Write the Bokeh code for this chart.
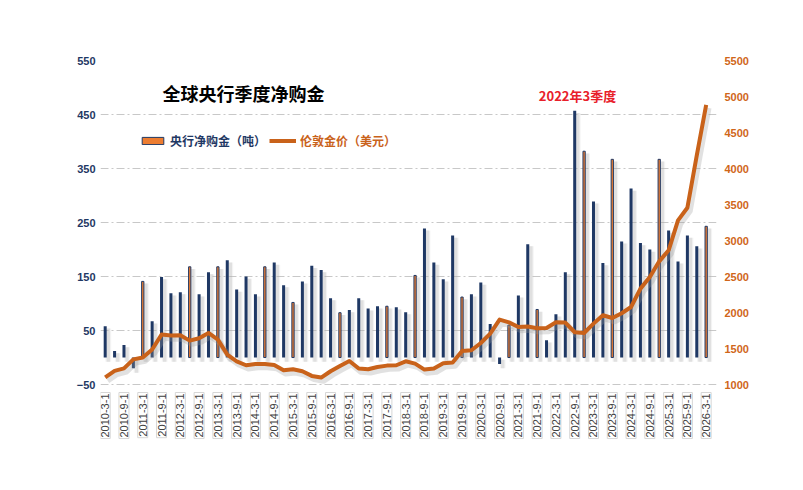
import numpy as np
from bokeh.plotting import figure
from bokeh.models import (Range1d, LinearAxis, FixedTicker, Legend, LegendItem,
                          Label, ColumnDataSource)
from bokeh.embed import file_html
from bokeh.resources import INLINE

# ---------------- data ----------------
quarters = [f"{y}-{m}-1" for y in range(2010, 2027) for m in (3, 6, 9, 12)][:65]

purchases = [58, 12, 23, -20, 141, 67, 149, 119, 121, 168,
             117, 158, 168, 180, 126, 150, 117, 168, 176, 134,
             102, 141, 170, 162, 110, 83, 88, 110, 91, 95,
             95, 93, 84, 152, 239, 176, 145, 226, 112, 117,
             139, 62, -12, 60, 115, 210, 89, 32, 80, 158,
             457, 382, 289, 175, 367, 215, 313, 212, 200, 367,
             235, 178, 226, 206, 243]

gold_price = [1100, 1190, 1225, 1350, 1375, 1486, 1694, 1680, 1684, 1610,
              1642, 1716, 1624, 1416, 1323, 1268, 1286, 1286, 1272, 1198,
              1212, 1185, 1120, 1097, 1185, 1258, 1328, 1222, 1212, 1244,
              1263, 1268, 1323, 1291, 1208, 1222, 1296, 1305, 1466, 1476,
              1577, 1708, 1902, 1864, 1800, 1805, 1781, 1786, 1864, 1860,
              1726, 1716, 1846, 1962, 1924, 1990, 2077, 2332, 2493, 2711,
              2864, 3280, 3456, 4182, 4885]

left_ticks = [-50, 50, 150, 250, 350, 450, 550]
right_ticks = [1000, 1500, 2000, 2500, 3000, 3500, 4000, 4500, 5000, 5500]

# bars whose orange fill shows through the outline in the reference
orange_visible = [4, 9, 12, 17, 20, 25, 30, 33, 38, 43, 46, 51, 54, 59, 64]

NAVY = "#1F3864"
ORANGE = "#ED7D31"
LINE = "#C9621A"
CJK = "Noto Sans CJK SC"

x = list(range(len(purchases)))

# The frame reaches below the lowest gridline so that the boxed category
# labels can be drawn inside it (60px extra space below the -50 / 1000 line).
EXTRA_PX = 61
PX_LEFT = 324.3 / (left_ticks[-1] - left_ticks[0])
PX_RIGHT = 324.3 / (right_ticks[-1] - right_ticks[0])
y_lo = left_ticks[0] - EXTRA_PX / PX_LEFT
r_lo = right_ticks[0] - EXTRA_PX / PX_RIGHT

p = figure(width=803, height=490, x_range=Range1d(-0.5, 65.1),
           y_range=Range1d(y_lo, left_ticks[-1]), output_backend="svg",
           toolbar_location=None, min_border_left=100, min_border_right=87,
           min_border_top=60, min_border_bottom=45)
p.outline_line_color = None
p.background_fill_color = "white"
p.extra_y_ranges = {"price": Range1d(r_lo, right_ticks[-1])}

# grid
p.xgrid.visible = False
p.ygrid.ticker = FixedTicker(ticks=left_ticks)
p.ygrid.grid_line_color = "#C8C8C8"
p.ygrid.grid_line_dash = "8 3 2 3"
p.ygrid.grid_line_width = 1

# shadows of bars
sh_x = [i + 0.33 for i in x]
sh_top = [max(v, 0) - 4 for v in purchases]
sh_bot = [min(v, 0) - 8 for v in purchases]
p.vbar(x=sh_x, top=sh_top, bottom=sh_bot, width=0.6, fill_color="#BFBFBF",
       fill_alpha=0.18, line_color=None)
p.vbar(x=sh_x, top=sh_top, bottom=sh_bot, width=0.35, fill_color="#A6A6A6",
       fill_alpha=0.25, line_color=None)

# bars
nav_idx = [i for i in x if i not in orange_visible]
src_n = ColumnDataSource(dict(x=[x[i] for i in nav_idx],
                              top=[purchases[i] for i in nav_idx]))
src_o = ColumnDataSource(dict(x=[x[i] for i in orange_visible],
                              top=[purchases[i] for i in orange_visible]))
p.vbar(x="x", top="top", bottom=0, width=0.32, source=src_n,
       fill_color=NAVY, line_color=None)
bars_o = p.vbar(x="x", top="top", bottom=0, width=0.24, source=src_o,
                fill_color=ORANGE, line_color=NAVY, line_width=1)

# line shadow + line
p.line([i + 0.25 for i in x], [v - 45 for v in gold_price], y_range_name="price",
       line_color="#9A9A9A", line_alpha=0.3, line_width=6, line_join="round")
gl = p.line(x, gold_price, y_range_name="price", line_color=LINE,
            line_width=4, line_join="round")

# axes
p.yaxis.ticker = FixedTicker(ticks=left_ticks)
yax = p.yaxis[0]
yax.axis_line_color = None
yax.major_tick_line_color = None
yax.minor_tick_line_color = None
yax.major_tick_out = 0
yax.minor_tick_out = 0
yax.major_label_standoff = 5
yax.major_label_text_font = "Liberation Sans"
yax.major_label_text_font_style = "bold"
yax.major_label_text_font_size = "11px"
yax.major_label_text_color = NAVY

rax = LinearAxis(y_range_name="price", ticker=FixedTicker(ticks=right_ticks))
rax.axis_line_color = None
rax.major_tick_line_color = None
rax.minor_tick_line_color = None
rax.major_tick_out = 0
rax.minor_tick_out = 0
rax.major_label_standoff = 8
rax.major_label_text_font = "Liberation Sans"
rax.major_label_text_font_style = "bold"
rax.major_label_text_font_size = "11px"
rax.major_label_text_color = "#D0661A"
p.add_layout(rax, "right")

p.xaxis.visible = False

# boxed category labels (shadow box + label box), inside the frame's bottom strip
xt = list(range(0, len(quarters), 2))
for i in xt:
    p.add_layout(Label(x=i + 0.2, y=EXTRA_PX - 10, x_units="data", y_units="screen",
                       text=quarters[i], angle=np.pi / 2, text_align="right",
                       text_baseline="middle", text_font="Liberation Sans",
                       text_font_size="11px", text_color=None,
                       background_fill_color="#BDBDBD", background_fill_alpha=0.55,
                       padding=1))
    p.add_layout(Label(x=i, y=EXTRA_PX - 8, x_units="data", y_units="screen",
                       text=quarters[i], angle=np.pi / 2, text_align="right",
                       text_baseline="middle", text_font="Liberation Sans",
                       text_font_size="11px", text_color="#404040",
                       background_fill_color="white",
                       border_line_color="#D6D6D6", border_line_width=1,
                       padding=1))

# legends
common = dict(padding=0, margin=0, border_line_color=None,
              background_fill_alpha=0, glyph_width=27, glyph_height=9,
              label_standoff=4, label_height=14, spacing=0,
              label_text_font=CJK, label_text_font_style="bold",
              label_text_font_size="12px")
leg1 = Legend(items=[LegendItem(label="央行净购金（吨）", renderers=[bars_o])],
              location=(39, 235 + EXTRA_PX), label_text_color=NAVY, **common)
leg2 = Legend(items=[LegendItem(label="伦敦金价（美元）", renderers=[gl])],
              location=(169, 235 + EXTRA_PX), label_text_color="#C9621A", **common)
p.add_layout(leg1)
p.add_layout(leg2)

# texts
p.add_layout(Label(x=62, y=292 + EXTRA_PX, x_units="screen", y_units="screen",
                   text="全球央行季度净购金", text_font=CJK, text_font_style="bold",
                   text_font_size="18px", text_color="black",
                   text_baseline="middle"))
p.add_layout(Label(x=477, y=289 + EXTRA_PX, x_units="screen", y_units="screen",
                   text="2022年3季度", text_font=CJK, text_font_style="bold",
                   text_font_size="13px", text_color="#E8202A",
                   text_align="center", text_baseline="middle"))

open("out.html", "w").write(file_html(p, INLINE))
